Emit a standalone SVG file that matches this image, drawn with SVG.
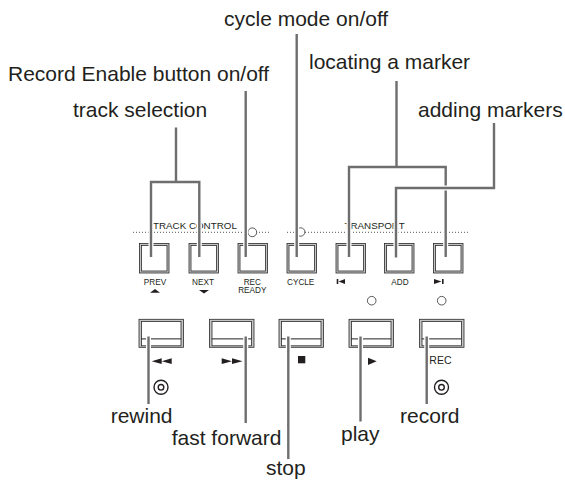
<svg xmlns="http://www.w3.org/2000/svg" width="565" height="483" viewBox="0 0 565 483">
<style>
.lbl{font-family:"Liberation Sans",Arial,Helvetica,sans-serif;font-size:21px;fill:#231f20}
.sm{font-family:"Liberation Sans",Arial,Helvetica,sans-serif;font-size:8.2px;fill:#231f20;text-anchor:middle}
.sec{font-family:"Liberation Sans",Arial,Helvetica,sans-serif;font-size:9.8px;fill:#231f20}
.rec{font-family:"Liberation Sans",Arial,Helvetica,sans-serif;font-size:10.5px;fill:#231f20}
.out{fill:#c4c4c4;stroke:#2a2a2a;stroke-width:0.8}
.in{fill:#fff;stroke:#2a2a2a;stroke-width:0.8}
.dot{fill:none;stroke:#555;stroke-width:1;stroke-dasharray:1 2}
.ind{fill:#fff;stroke:#444;stroke-width:0.9}
.sym{fill:#231f20}
.halo{fill:none;stroke:#fff;stroke-width:5}
.ln{fill:none;stroke:#6e6e6e;stroke-width:2.4}
.tgt{fill:none;stroke:#231f20;stroke-width:1.4}
</style>

<g id="panel">
<line class="dot" x1="133" y1="232.3" x2="269" y2="232.3"/>
<line class="dot" x1="287" y1="232.3" x2="470" y2="232.3"/>
<text class="sec" x="153" y="228.5">TRACK CONTROL</text>
<text class="sec" x="344.5" y="228.5">TRANSPORT</text>
<circle class="ind" cx="252.3" cy="232.3" r="4.4"/>
<circle class="ind" cx="300.7" cy="232" r="4.2"/>
<circle class="ind" cx="371.7" cy="300.7" r="4.3"/>
<circle class="ind" cx="441.7" cy="300.7" r="4.3"/>
</g>

<g id="btn-prev">
<rect class="out" x="139.5" y="243.5" width="29.5" height="29.5"/>
<rect class="in" x="141.5" y="245.5" width="25.5" height="25.5"/>
<text class="sm" x="155" y="285">PREV</text>
<polygon class="sym" points="150,292.8 160,292.8 155,289"/>
</g>
<g id="btn-next">
<rect class="out" x="189" y="243.5" width="29.5" height="29.5"/>
<rect class="in" x="191" y="245.5" width="25.5" height="25.5"/>
<text class="sm" x="203" y="285">NEXT</text>
<polygon class="sym" points="199,290 209,290 204,293.6"/>
</g>
<g id="btn-recready">
<rect class="out" x="238" y="243.5" width="29.5" height="29.5"/>
<rect class="in" x="240" y="245.5" width="25.5" height="25.5"/>
<text class="sm" x="252.3" y="285">REC</text>
<text class="sm" x="252.3" y="292.7">READY</text>
</g>
<g id="btn-cycle">
<rect class="out" x="287" y="243.5" width="29.5" height="29.5"/>
<rect class="in" x="289" y="245.5" width="25.5" height="25.5"/>
<text class="sm" x="300.7" y="285">CYCLE</text>
</g>
<g id="btn-locprev">
<rect class="out" x="336" y="243.5" width="29.5" height="29.5"/>
<rect class="in" x="338" y="245.5" width="25.5" height="25.5"/>
<rect class="sym" x="336.7" y="279" width="1.6" height="5"/>
<polygon class="sym" points="345,279 345,284 338.6,281.5"/>
</g>
<g id="btn-add">
<rect class="out" x="384.5" y="243.5" width="29.5" height="29.5"/>
<rect class="in" x="386.5" y="245.5" width="25.5" height="25.5"/>
<text class="sm" x="400" y="285">ADD</text>
</g>
<g id="btn-locnext">
<rect class="out" x="433.5" y="243.5" width="29.5" height="29.5"/>
<rect class="in" x="435.5" y="245.5" width="25.5" height="25.5"/>
<polygon class="sym" points="434,279 434,284 441.5,281.5"/>
<rect class="sym" x="442" y="279" width="1.6" height="5"/>
</g>

<g id="btn-rewind">
<rect class="out" x="139" y="319.3" width="44.5" height="28"/>
<rect class="in" x="141.5" y="321.5" width="39.5" height="17.5"/>
<rect class="in" x="141.5" y="339" width="39.5" height="6.8"/>
<polygon class="sym" points="161.7,358.3 161.7,364 151.7,361.2"/>
<polygon class="sym" points="171.7,358.3 171.7,364 161.7,361.2"/>
<circle class="tgt" cx="161" cy="387.3" r="7"/>
<circle class="tgt" cx="161" cy="387.3" r="2.8"/>
</g>
<g id="btn-ff">
<rect class="out" x="209.5" y="319.3" width="44.5" height="28"/>
<rect class="in" x="212" y="321.5" width="39.5" height="17.5"/>
<rect class="in" x="212" y="339" width="39.5" height="6.8"/>
<polygon class="sym" points="221.7,358.3 221.7,364 232,361.2"/>
<polygon class="sym" points="232,358.3 232,364 242.5,361.2"/>
</g>
<g id="btn-stop">
<rect class="out" x="279" y="319.3" width="44.5" height="28"/>
<rect class="in" x="281.5" y="321.5" width="39.5" height="17.5"/>
<rect class="in" x="281.5" y="339" width="39.5" height="6.8"/>
<rect class="sym" x="298" y="356" width="7.3" height="7.3"/>
</g>
<g id="btn-play">
<rect class="out" x="349" y="319.3" width="44.5" height="28"/>
<rect class="in" x="351.5" y="321.5" width="39.5" height="17.5"/>
<rect class="in" x="351.5" y="339" width="39.5" height="6.8"/>
<polygon class="sym" points="368,357.7 368,365 376.7,361.3"/>
</g>
<g id="btn-rec">
<rect class="out" x="419.5" y="319.3" width="44.5" height="28"/>
<rect class="in" x="422" y="321.5" width="39.5" height="17.5"/>
<rect class="in" x="422" y="339" width="39.5" height="6.8"/>
<text class="rec" x="429.3" y="364.3">REC</text>
<circle class="tgt" cx="441.5" cy="387.3" r="7"/>
<circle class="tgt" cx="441.5" cy="387.3" r="2.8"/>
</g>

<g id="labels">
<text class="lbl" x="224" y="26">cycle mode on/off</text>
<text class="lbl" x="309" y="68.5">locating a marker</text>
<text class="lbl" x="8" y="81">Record Enable button on/off</text>
<text class="lbl" x="73" y="116.8">track selection</text>
<text class="lbl" x="418" y="116.5">adding markers</text>
<text class="lbl" x="110.7" y="422.5">rewind</text>
<text class="lbl" x="171.7" y="444.8">fast forward</text>
<text class="lbl" x="266" y="475">stop</text>
<text class="lbl" x="341" y="440.8">play</text>
<text class="lbl" x="400" y="422.5">record</text>
</g>

<g id="connectors">
<path class="halo" d="M176,127.5V182M151,257V182H199.3V257"/>
<path class="ln" d="M176,127.5V182M151,257V182H199.3V257"/>
<path class="halo" d="M245.7,91V257"/>
<path class="ln" d="M245.7,91V257"/>
<path class="halo" d="M296.7,34V257"/>
<path class="ln" d="M296.7,34V257"/>
<path class="halo" d="M396.5,81V167M349,257V167H445.7V257"/>
<path class="ln" d="M396.5,81V167M349,257V167H445.7V257"/>
<path class="halo" d="M494,123V188H396V257.5"/>
<path class="ln" d="M494,123V188H396V257.5"/>
<path class="halo" d="M148.5,336.5V404"/>
<path class="ln" d="M148.5,336.5V404"/>
<path class="halo" d="M245.7,336.5V423"/>
<path class="ln" d="M245.7,336.5V423"/>
<path class="halo" d="M288.3,336.5V459"/>
<path class="ln" d="M288.3,336.5V459"/>
<path class="halo" d="M360.5,336.5V421.5"/>
<path class="ln" d="M360.5,336.5V421.5"/>
<path class="halo" d="M426.7,336.5V404"/>
<path class="ln" d="M426.7,336.5V404"/>
</g>
</svg>
